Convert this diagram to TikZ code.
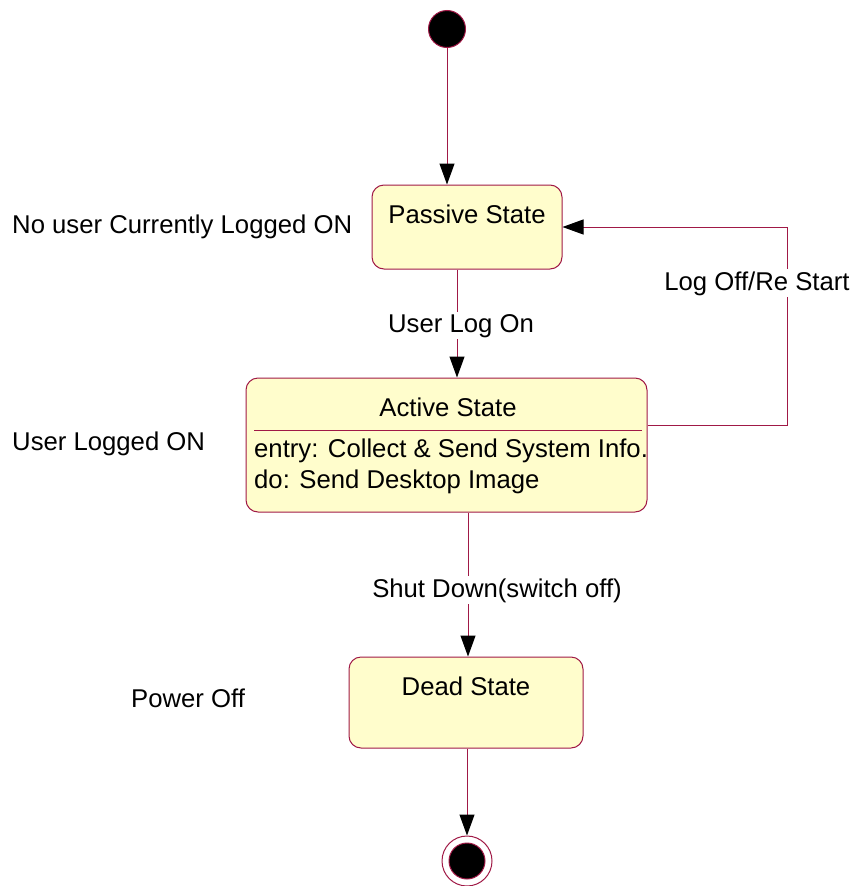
\documentclass[tikz,border=0pt]{standalone}
\usepackage{fontspec}
\setmainfont{Liberation Sans}
\usetikzlibrary{arrows.meta}
\definecolor{edge}{RGB}{160,25,70}
\definecolor{statefill}{RGB}{255,253,204}
\tikzset{
  statebox/.style={draw=edge, fill=statefill, rounded corners=12pt, line width=1pt, inner sep=0pt},
  txt/.style={font=\fontsize{25.7}{30}\selectfont, inner sep=0pt, text=black},
  lbl/.style={font=\fontsize{25.7}{30}\selectfont, inner sep=2pt, fill=white, text=black},
  conn/.style={draw=edge, line width=1pt, -{Triangle[length=21pt,width=15pt,color=black,fill=black]}},
  plain/.style={draw=edge, line width=1pt}
}
\begin{document}
\begin{tikzpicture}[x=1pt,y=-1pt]
\useasboundingbox (0,0) rectangle (853,886);
% initial
\node[circle, draw=edge, fill=black, line width=1pt, minimum size=37pt, inner sep=0pt] (init) at (447,29) {};
% states
\node[statebox, minimum width=190pt, minimum height=84pt] (passive) at (467,227) {};
\node[txt, anchor=base] (passivet) at (467,223) {Passive State};
\node[statebox, minimum width=401pt, minimum height=134pt] (active) at (446.5,445) {};
\node[txt, anchor=base] (activet) at (448,416) {Active State};
\draw[plain] (254,430) coordinate (sepl) -- (642,430) coordinate (sepr);
\node[txt, anchor=base west] (entry) at (254,457) {entry: Collect \& Send System Info.};
\node[txt, anchor=base west] (do) at (254,488) {do: Send Desktop Image};
\node[statebox, minimum width=234pt, minimum height=91pt] (dead) at (466,702.5) {};
\node[txt, anchor=base] (deadt) at (466,695) {Dead State};
% final
\node[circle, draw=edge, fill=white, line width=1pt, minimum size=50pt, inner sep=0pt] (final) at (467,861) {};
\node[circle, draw=edge, fill=black, line width=1pt, minimum size=36pt, inner sep=0pt] (finalin) at (467,861) {};
% side labels
\node[txt, anchor=base west] (l1) at (12,233) {No user Currently Logged ON};
\node[txt, anchor=base west] (l2) at (12,450) {User Logged ON};
\node[txt, anchor=base west] (l3) at (131,707) {Power Off};
% connectors
\draw[conn] (init.south) -- (init.south |- passive.north);
\draw[conn] ([xshift=-10pt]passive.south) -- ([xshift=-10pt]passive.south |- active.north);
\draw[conn] ([xshift=2pt]dead.north |- active.south) -- ([xshift=2pt]dead.north);
\draw[conn] (dead.south -| final.north) -- (final.north);
\draw[conn] ([yshift=20pt]active.east) -- ++(140,0) coordinate (loopc) |- (passive.east);
% transition labels
\node[lbl, anchor=base] (ulo) at (461,332) {User Log On};
\node[lbl, anchor=base] (sd) at (497,597) {Shut Down(switch off)};
\node[lbl, anchor=base] (lo) at (757,290) {Log Off/Re Start};
\end{tikzpicture}
\end{document}
